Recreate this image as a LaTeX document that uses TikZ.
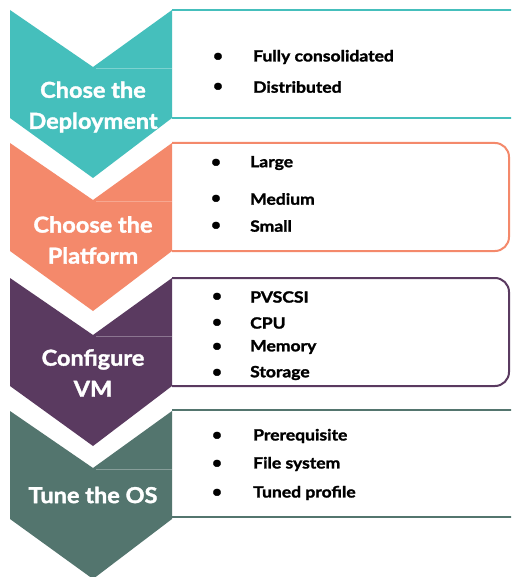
\documentclass[tikz,border=0pt]{standalone}
\usepackage{fontspec}
\setmainfont{Lato}
\newfontfamily\heavy{Lato}[BoldFeatures={FakeBold=1.6,FakeStretch=1.07}]
\newfontfamily\heavywide{Lato}[BoldFeatures={FakeBold=1.6,FakeStretch=1.13}]
\definecolor{cteal}{HTML}{45BFBC}
\definecolor{corange}{HTML}{F4896B}
\definecolor{cpurple}{HTML}{5A3A60}
\definecolor{cgreen}{HTML}{53756E}
\begin{document}
\begin{tikzpicture}[x=1pt,y=-1pt,
  chev/.pic={\fill[pic actions] (0,0) -- (83,57) -- (162,0) -- (162,108) -- (83,168) -- (0,108) -- cycle;},
  steplabel/.style={text=white,font=\fontsize{22}{31}\selectfont\heavy\bfseries,align=center,inner sep=0pt},
  item/.style={anchor=west,font=\fontsize{15.5}{16}\selectfont\heavywide\bfseries,inner sep=0pt},
  bul/.style={font=\fontsize{16}{16}\selectfont\heavy\bfseries,inner sep=0pt},
  boxline/.style={line width=2pt}]
\useasboundingbox (0,0) rectangle (511,577);
\clip (0,0) rectangle (511,577);
\fill[white] (0,0) rectangle (511,577);
% boxes
\draw[boxline,cteal] (172,10) -- (530,10) -- (530,118) -- (172,118);
\draw[boxline,corange,rounded corners=14pt] (172,143) -- (509,143) -- (509,251) -- (172,251);
\draw[boxline,cpurple,rounded corners=14pt] (172,278) -- (509,278) -- (509,386) -- (172,386);
\draw[boxline,cgreen] (172,410) -- (530,410) -- (530,517) -- (172,517);
% chevrons
\pic[fill=cteal] at (10,10) {chev};
\pic[fill=corange] at (10,143) {chev};
\pic[fill=cpurple] at (10,278) {chev};
\pic[fill=cgreen] at (10,411) {chev};
\draw[cteal!70!white,line width=0.6pt] (96,68) -- (172,68);
\draw[corange!75!white,line width=0.6pt] (96,201) -- (172,201);
\draw[cpurple!70!white,line width=0.6pt] (96,336) -- (172,336);
\draw[cgreen!70!white,line width=0.6pt] (96,469) -- (172,469);
% labels
\node[steplabel] (l1) at (93,107) {Chose the\\Deployment};
\node[steplabel] (l2) at (93,240) {Choose the\\Platform};
\node[steplabel] (l3) at (93,373) {Configure\\VM};
\node[steplabel] (l4) at (93,495) {Tune the OS};
% box 1
\node[bul] (b11) at (218,57) {•}; \node[item] (t11) at (253,57) {Fully consolidated};
\node[bul] (b12) at (218,87) {•}; \node[item] (t12) at (253,87) {Distributed};
% box 2
\node[bul] (b21) at (216,163) {•}; \node[item] (t21) at (250,163) {Large};
\node[bul] (b22) at (216,199) {•}; \node[item] (t22) at (250,199) {Medium};
\node[bul] (b23) at (216,226) {•}; \node[item] (t23) at (250,226) {Small};
% box 3
\node[bul] (b31) at (217,297) {•}; \node[item] (t31) at (250,297) {PVSCSI};
\node[bul] (b32) at (217,323) {•}; \node[item] (t32) at (250,323) {CPU};
\node[bul] (b33) at (217,347) {•}; \node[item] (t33) at (250,347) {Memory};
\node[bul] (b34) at (217,373) {•}; \node[item] (t34) at (250,373) {Storage};
% box 4
\node[bul] (b41) at (217,436) {•}; \node[item] (t41) at (253,436) {Prerequisite};
\node[bul] (b42) at (217,464) {•}; \node[item] (t42) at (253,464) {File system};
\node[bul] (b43) at (217,493) {•}; \node[item] (t43) at (253,493) {Tuned profile};
\end{tikzpicture}
\end{document}
